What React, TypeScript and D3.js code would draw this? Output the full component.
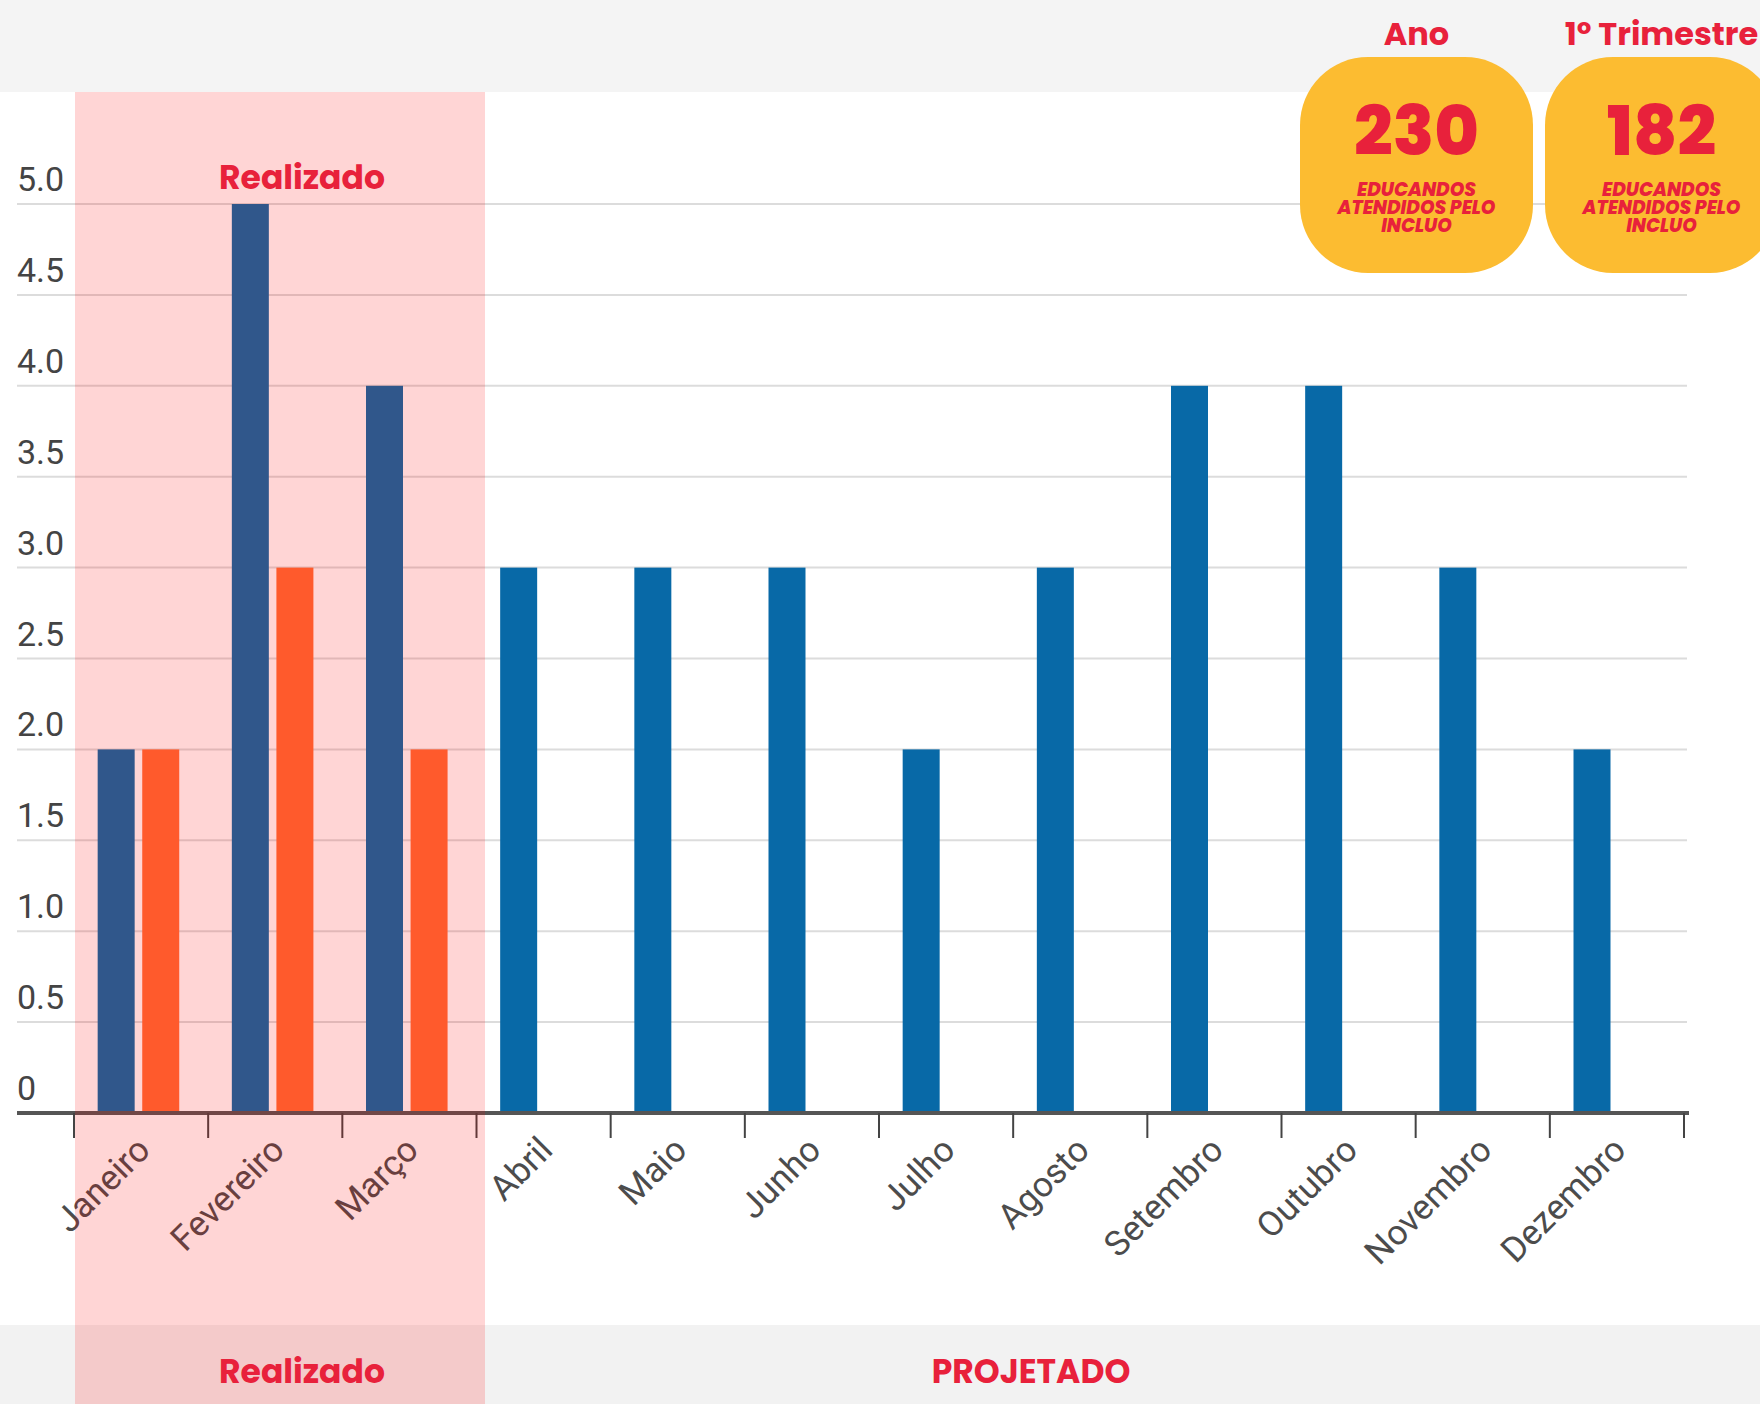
import React from "react";
import * as d3 from "d3";

const months = [
  "Janeiro", "Fevereiro", "Março", "Abril", "Maio", "Junho",
  "Julho", "Agosto", "Setembro", "Outubro", "Novembro", "Dezembro",
];
const projetado = [2, 5, 4, 3, 3, 3, 2, 3, 4, 4, 3, 2];
const realizado = [2, 3, 2];
const yTicks = [0, 0.5, 1, 1.5, 2, 2.5, 3, 3.5, 4, 4.5, 5];
const cards = [
  { title: "Ano", value: "230" },
  { title: "1º Trimestre", value: "182" },
];
const cardLines = ["EDUCANDOS", "ATENDIDOS PELO", "INCLUO"];

const W = 1760;
const H = 1404;
const RED = "#e8213b";
const BLUE = "#0869a7";
const ORANGE = "#ff6c35";
const TITLE_FONT = "Poppins, Inter, 'Open Sans', sans-serif";

export default function App() {
  const x = d3.scaleBand<string>().domain(months).range([74, 1684]).padding(0);
  const xSub = d3
    .scaleBand<string>()
    .domain(["projetado", "realizado"])
    .range([0, x.bandwidth()])
    .paddingInner(0.17)
    .paddingOuter(0.59)
    .align(0.45);
  const y = d3.scaleLinear().domain([0, 5]).range([1113, 204]);

  const tickXs = months.map((m) => x(m)!).concat([x.range()[1]]);
  const overlayX0 = 75;
  const overlayX1 = 485;

  return (
    <svg
      width={W}
      height={H}
      style={{ position: "absolute", left: 0, top: 0, background: "#fff" }}
    >
      {/* background bands */}
      <rect x={0} y={0} width={W} height={92} fill="#f4f4f4" />
      <rect x={0} y={1325} width={W} height={H - 1325} fill="#f2f2f2" />

      {/* grid */}
      {yTicks.filter((t) => t > 0).map((t) => (
        <line key={t} x1={17} x2={1687} y1={y(t)} y2={y(t)} stroke="#dcdcdc" strokeWidth={2} />
      ))}
      {yTicks.map((t) => (
        <text
          key={"l" + t}
          x={17}
          y={y(t) - 13}
          fontFamily="Roboto, sans-serif"
          fontSize={34}
          fill="#444"
        >
          {t === 0 ? "0" : t.toFixed(1)}
        </text>
      ))}

      {/* bars */}
      {months.map((m, i) => (
        <g key={m} transform={`translate(${x(m)},0)`}>
          <rect
            x={xSub("projetado")}
            y={y(projetado[i])}
            width={xSub.bandwidth()}
            height={y(0) - y(projetado[i])}
            fill={BLUE}
          />
          {i < realizado.length && (
            <rect
              x={xSub("realizado")}
              y={y(realizado[i])}
              width={xSub.bandwidth()}
              height={y(0) - y(realizado[i])}
              fill={ORANGE}
            />
          )}
        </g>
      ))}

      {/* axis */}
      <line x1={17} x2={1689} y1={1113} y2={1113} stroke="#555" strokeWidth={4} />
      {tickXs.map((tx, i) => (
        <line key={i} x1={tx} x2={tx} y1={1113} y2={1138} stroke="#444" strokeWidth={2} />
      ))}
      {months.map((m) => {
        const cx = x(m)! + x.bandwidth() / 2 + 11;
        return (
          <text
            key={"x" + m}
            transform={`translate(${cx},1152) rotate(-45)`}
            textAnchor="end"
            fontFamily="Roboto, sans-serif"
            fontSize={35}
            fill="#4c4c4c"
          >
            {m}
          </text>
        );
      })}

      {/* realizado overlay */}
      <rect
        x={overlayX0}
        y={92}
        width={overlayX1 - overlayX0}
        height={H - 92}
        fill="#ff0000"
        fillOpacity={0.165}
      />

      <text x={302} y={189} textAnchor="middle" fontFamily={TITLE_FONT} fontWeight={700} fontSize={33} fill={RED}>
        Realizado
      </text>
      <text x={302} y={1383} textAnchor="middle" fontFamily={TITLE_FONT} fontWeight={700} fontSize={33} fill={RED}>
        Realizado
      </text>
      <text x={1031} y={1383} textAnchor="middle" fontFamily={TITLE_FONT} fontWeight={700} fontSize={33} fill={RED}>
        PROJETADO
      </text>

      {/* cards */}
      {cards.map((c, i) => {
        const cx0 = 1300 + i * 245;
        const cc = cx0 + 116.5;
        return (
          <g key={c.title}>
            <text x={cc} y={45} textAnchor="middle" fontFamily={TITLE_FONT} fontWeight={700} fontSize={32} fill={RED}>
              {c.title}
            </text>
            <rect x={cx0} y={57} width={233} height={216} rx={68} fill="#fcbc31" />
            <text x={cc} y={155} textAnchor="middle" fontFamily={TITLE_FONT} fontWeight={800} fontSize={68} fill={RED}>
              {c.value}
            </text>
            {cardLines.map((l, j) => (
              <text
                key={l}
                x={cc}
                y={196 + j * 18}
                textAnchor="middle"
                fontFamily={TITLE_FONT}
                fontWeight={800}
                fontStyle="italic"
                fontSize={18.5}
                fill={RED}
              >
                {l}
              </text>
            ))}
          </g>
        );
      })}
    </svg>
  );
}
